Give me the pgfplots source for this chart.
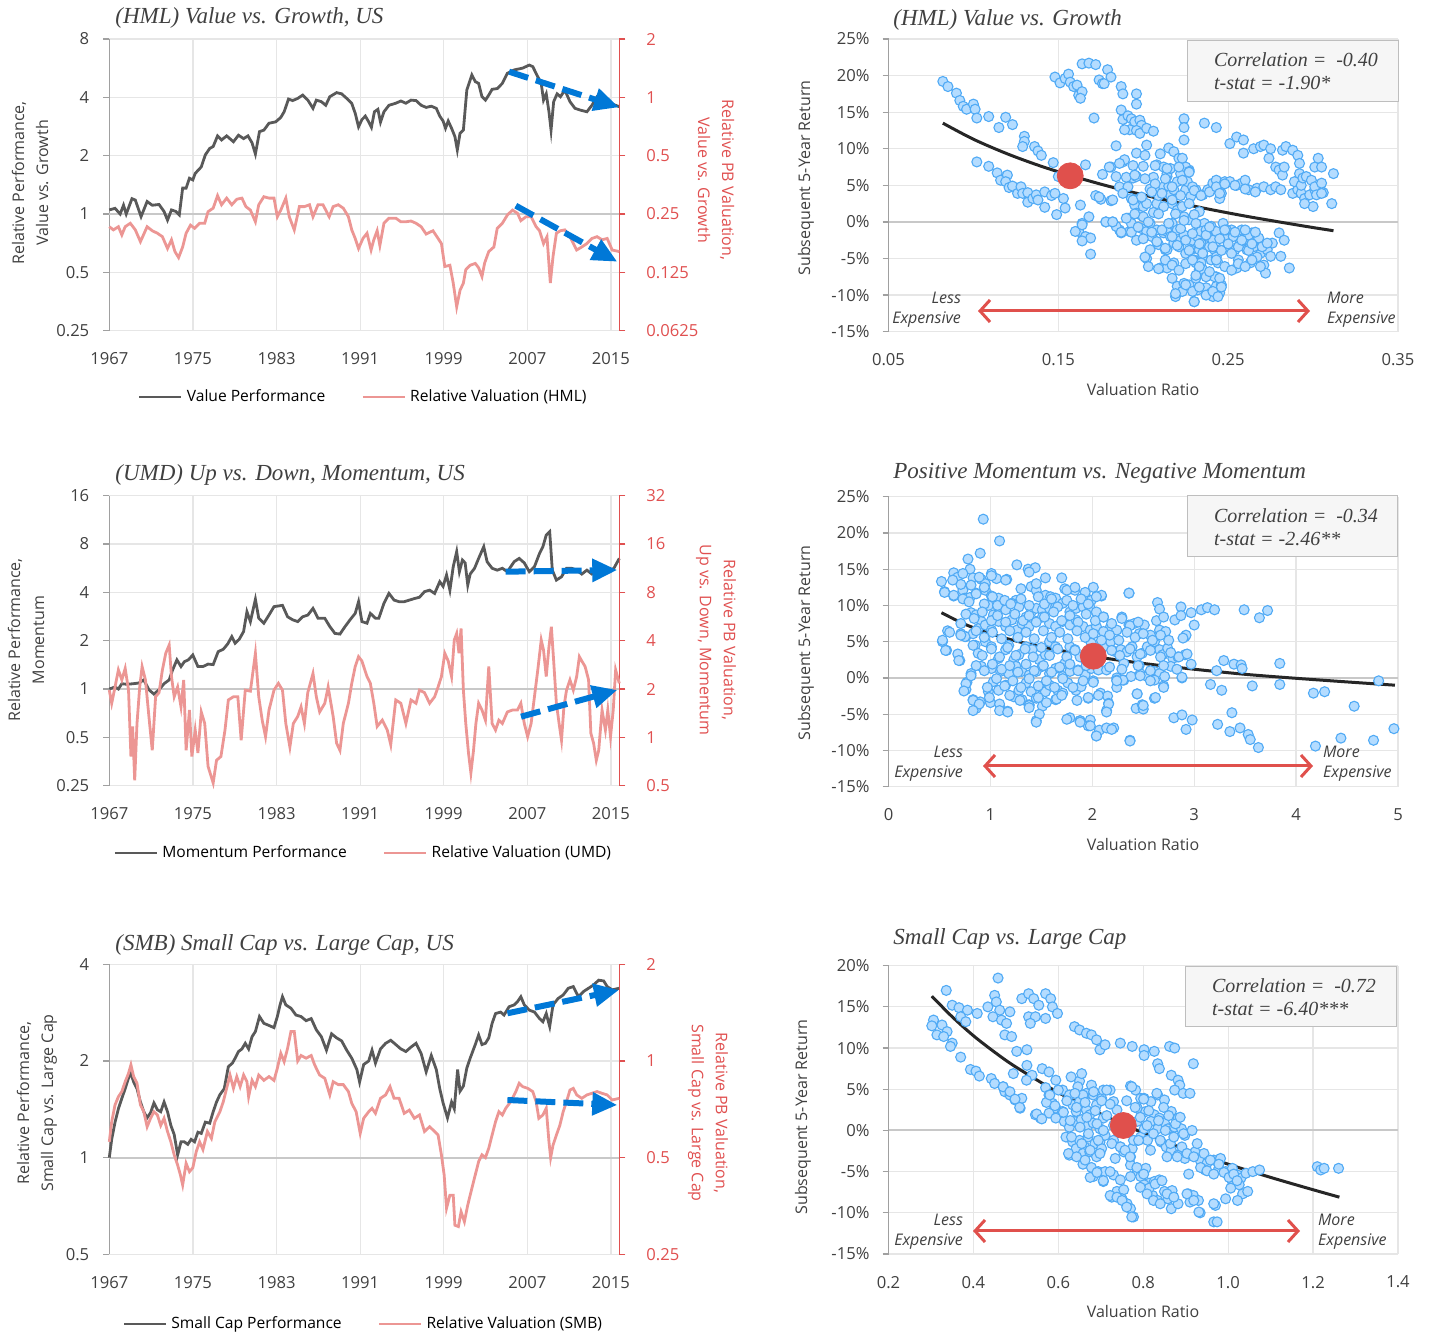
\documentclass[border=0pt]{standalone}
\usepackage{fontspec}
\setmainfont{Open Sans}
\newfontfamily\serifit{Liberation Serif}
\usepackage{pgfplots}
\pgfplotsset{compat=1.18}
\usetikzlibrary{arrows.meta}
\definecolor{darkline}{RGB}{89,89,89}
\definecolor{pinkline}{RGB}{236,150,148}
\definecolor{redaxis}{RGB}{224,80,80}
\definecolor{gridc}{RGB}{230,230,230}
\definecolor{zeroc}{RGB}{200,200,200}
\definecolor{axisgrey}{RGB}{160,160,160}
\definecolor{labc}{RGB}{64,64,64}
\definecolor{blueA}{RGB}{0,120,215}
\definecolor{scatfill}{RGB}{180,220,255}
\definecolor{scatdraw}{RGB}{80,170,245}
\definecolor{dotred}{RGB}{224,80,76}
\definecolor{boxfill}{RGB}{246,246,246}
\definecolor{boxdraw}{RGB}{190,190,190}
\newcommand\tfont{\fontsize{8.3}{10}\selectfont}
\newcommand\lfont{\fontsize{8}{12}\selectfont}
\newcommand\legfont{\fontsize{7.8}{9}\selectfont}
\newcommand\titfont{\serifit\itshape\fontsize{11.5}{13}\selectfont}
\newcommand\boxfont{\serifit\itshape\fontsize{10}{11.5}\selectfont}
\newcommand\lmfont{\fontsize{8}{10}\selectfont\itshape}
\tikzset{
  dk/.style={darkline, line width=1.4pt},
  pk/.style={pinkline, line width=1.4pt},
  pts/.style={only marks, mark=*, mark size=2.5pt, mark options={fill=scatfill, draw=scatdraw, line width=0.55pt}},
  fitline/.style={black!85, line width=1.5pt, smooth},
  rdot/.style={only marks, mark=*, mark size=6.5pt, color=dotred},
  barrow/.style={blueA, line width=3pt, dash pattern=on 10pt off 4pt, -{Triangle[length=12.5pt,width=11pt]}},
  rarrow/.style={dotred, line width=1.5pt, {Straight Barb[length=5pt,width=11pt]}-{Straight Barb[length=5pt,width=11pt]}},
}
\pgfplotsset{
  mybase/.style={scale only axis, anchor=north west, tick align=outside, major tick length=3pt,
    tick label style={font=\tfont, text=labc}, clip=false},
  myleftA/.style={mybase, width=255pt, xmin=1967, xmax=2015.8,
    axis y line*=left, axis x line*=bottom,
    x axis line style={draw=gridc, line width=0.6pt},
    y axis line style={draw=axisgrey, line width=0.6pt},
    ytick style={draw=axisgrey, line width=0.6pt}, xtick style={draw=none},
    xtick={1967,1975,1983,1991,1999,2007,2015},
    xticklabels={1967,1975,1983,1991,1999,2007,2015},
    xticklabel style={yshift=-4.5pt}, yticklabel style={xshift=-3.5pt},
    grid=major, grid style={draw=gridc, line width=0.6pt},
    legend style={draw=none, fill=none, font=\legfont, legend columns=2, anchor=center,
      /tikz/every even column/.append style={column sep=16pt}}},
  myleftB/.style={mybase, width=255pt, xmin=1967, xmax=2015.8,
    axis y line*=right, axis x line=none,
    y axis line style={draw=redaxis, line width=0.6pt},
    ytick style={draw=redaxis, line width=0.6pt},
    yticklabel style={text=redaxis, xshift=7pt}},
  myscat/.style={mybase, axis y line*=left, axis x line*=bottom, width=254.75pt,
    x axis line style={draw=gridc, line width=0.6pt},
    y axis line style={draw=axisgrey, line width=0.6pt},
    ytick style={draw=axisgrey, line width=0.6pt}, xtick style={draw=none},
    xticklabel style={yshift=-4.5pt}, yticklabel style={xshift=-3pt},
    grid=major, grid style={draw=gridc, line width=0.6pt}},
}
\begin{document}
\begin{tikzpicture}
\path[use as bounding box] (0,0) rectangle (716pt,-668pt);
% ===== Row 1 left =====
\begin{axis}[myleftA, ymode=log, log basis y=2, at={(54.65pt,-19.5pt)}, height=145.85pt, ymin=0.25, ymax=8,
  ytick={0.25,0.5,1,2,4,8}, yticklabels={0.25,0.5,1,2,4,8},
  legend image code/.code={\draw[#1] (0pt,0pt) -- (21pt,0pt);},
  legend style={at={(0.50,-0.227)}}]
\addplot[zeroc, line width=1pt, forget plot] coordinates {(1967,1) (2015.8,1)};
\addplot[dk] coordinates {(1967.00,1.05)(1967.55,1.07)(1968.04,1.00)(1968.36,1.11)(1968.62,1.00)(1969.17,1.20)(1969.49,1.18)(1970.04,0.97)(1970.62,1.16)(1971.11,1.11)(1971.76,1.12)(1972.24,1.03)(1972.57,0.93)(1972.95,1.05)(1973.38,1.03)(1973.70,0.99)(1974.02,1.36)(1974.35,1.36)(1974.67,1.53)(1974.99,1.50)(1975.22,1.62)(1975.80,1.75)(1976.19,2.02)(1976.61,2.18)(1976.94,2.23)(1977.36,2.53)(1977.74,2.41)(1978.23,2.53)(1978.88,2.36)(1979.36,2.55)(1979.85,2.45)(1980.27,2.53)(1980.66,2.33)(1980.98,2.04)(1981.37,2.66)(1981.79,2.71)(1982.28,2.94)(1982.92,2.99)(1983.41,3.15)(1983.73,3.37)(1984.15,3.92)(1984.54,3.85)(1985.03,3.95)(1985.51,4.11)(1986.00,3.87)(1986.49,3.51)(1986.81,3.87)(1987.29,3.80)(1987.71,3.64)(1988.10,4.03)(1988.75,4.23)(1989.23,4.17)(1989.72,3.95)(1990.20,3.72)(1990.53,3.31)(1990.85,2.82)(1991.17,3.07)(1991.50,3.20)(1991.82,2.99)(1992.08,2.80)(1992.37,3.37)(1992.70,3.47)(1992.95,2.98)(1993.28,3.37)(1993.76,3.64)(1994.41,3.73)(1994.90,3.83)(1995.38,3.73)(1995.87,3.87)(1996.35,3.85)(1996.84,3.64)(1997.32,3.55)(1997.81,3.60)(1998.29,3.51)(1998.62,3.20)(1998.94,3.02)(1999.17,2.77)(1999.43,3.02)(1999.75,2.77)(2000.07,2.51)(2000.30,2.14)(2000.56,2.61)(2000.88,2.71)(2001.21,4.36)(2001.69,5.22)(2002.02,4.82)(2002.34,4.72)(2002.66,4.03)(2002.99,3.87)(2003.31,4.11)(2003.63,4.40)(2004.12,4.44)(2004.61,4.72)(2005.09,5.32)(2005.74,5.54)(2006.55,5.66)(2007.19,5.87)(2007.52,5.76)(2008.00,5.11)(2008.33,4.72)(2008.55,3.87)(2008.81,4.17)(2009.07,3.37)(2009.27,2.71)(2009.52,3.80)(2009.85,4.17)(2010.17,4.03)(2010.59,4.36)(2011.08,3.80)(2011.56,3.51)(2012.05,3.44)(2012.70,3.37)(2013.18,3.64)(2013.67,4.03)(2014.31,3.95)(2014.96,3.72)(2015.80,3.58)};
\addlegendentry{Value Performance}
\addlegendimage{pk}
\addlegendentry{Relative Valuation (HML)}
\end{axis}
\begin{axis}[myleftB, ymode=log, log basis y=2, at={(54.65pt,-19.5pt)}, height=145.85pt, ymin=0.0625, ymax=2,
  ytick={0.0625,0.125,0.25,0.5,1,2}, yticklabels={0.0625,0.125,0.25,0.5,1,2}]
\addplot[pk] coordinates {(1967.00,0.215)(1967.39,0.207)(1967.87,0.215)(1968.20,0.195)(1968.52,0.215)(1969.01,0.224)(1969.49,0.207)(1969.98,0.180)(1970.62,0.215)(1971.11,0.205)(1971.60,0.199)(1972.08,0.191)(1972.57,0.166)(1972.95,0.184)(1973.28,0.160)(1973.63,0.149)(1974.02,0.169)(1974.35,0.199)(1974.77,0.219)(1975.16,0.211)(1975.64,0.224)(1976.13,0.224)(1976.45,0.257)(1976.94,0.268)(1977.36,0.311)(1977.74,0.279)(1978.23,0.302)(1978.72,0.279)(1979.20,0.298)(1979.69,0.302)(1980.07,0.273)(1980.50,0.262)(1980.98,0.228)(1981.30,0.279)(1981.79,0.307)(1982.28,0.302)(1982.76,0.302)(1983.08,0.242)(1983.41,0.262)(1983.89,0.302)(1984.22,0.242)(1984.70,0.207)(1985.19,0.273)(1985.67,0.273)(1986.16,0.279)(1986.49,0.242)(1986.97,0.279)(1987.45,0.279)(1988.04,0.242)(1988.42,0.273)(1988.91,0.279)(1989.39,0.268)(1989.88,0.242)(1990.20,0.207)(1990.53,0.187)(1990.85,0.166)(1991.27,0.187)(1991.66,0.199)(1992.05,0.163)(1992.31,0.184)(1992.63,0.205)(1992.89,0.172)(1993.28,0.224)(1993.76,0.238)(1994.41,0.238)(1994.90,0.228)(1995.38,0.228)(1995.87,0.230)(1996.35,0.224)(1996.84,0.215)(1997.32,0.197)(1997.97,0.205)(1998.46,0.187)(1998.78,0.176)(1999.10,0.134)(1999.59,0.136)(1999.91,0.110)(2000.24,0.083)(2000.56,0.101)(2000.88,0.110)(2001.11,0.129)(2001.53,0.136)(2002.02,0.139)(2002.34,0.132)(2002.66,0.119)(2002.92,0.140)(2003.31,0.160)(2003.80,0.169)(2004.12,0.211)(2004.61,0.224)(2005.09,0.247)(2005.58,0.262)(2006.06,0.252)(2006.38,0.231)(2006.87,0.242)(2007.36,0.242)(2007.84,0.215)(2008.17,0.205)(2008.55,0.176)(2008.88,0.191)(2009.20,0.110)(2009.46,0.151)(2009.78,0.199)(2010.17,0.205)(2010.59,0.207)(2011.08,0.191)(2011.72,0.163)(2012.21,0.169)(2012.70,0.176)(2013.18,0.187)(2013.67,0.191)(2014.15,0.184)(2014.64,0.187)(2015.12,0.163)(2015.80,0.160)};
\end{axis}
% ===== Row 2 left =====
\begin{axis}[myleftA, ymode=log, log basis y=2, at={(54.65pt,-247.85pt)}, height=145pt, ymin=0.25, ymax=16,
  ytick={0.25,0.5,1,2,4,8,16}, yticklabels={0.25,0.5,1,2,4,8,16},
  legend image code/.code={\draw[#1] (0pt,0pt) -- (21pt,0pt);},
  legend style={at={(0.50,-0.232)}}]
\addplot[zeroc, line width=1pt, forget plot] coordinates {(1967,1) (2015.8,1)};
\addplot[dk] coordinates {(1967.00,1.00)(1967.55,1.03)(1967.87,1.00)(1968.20,1.08)(1968.68,1.07)(1969.33,1.08)(1969.82,1.09)(1970.30,1.14)(1970.79,0.99)(1971.27,0.93)(1971.76,0.99)(1972.24,1.08)(1972.73,1.14)(1973.05,1.31)(1973.47,1.52)(1973.86,1.38)(1974.18,1.48)(1974.57,1.52)(1974.99,1.63)(1975.48,1.38)(1975.96,1.38)(1976.45,1.43)(1976.94,1.42)(1977.42,1.71)(1977.91,1.77)(1978.33,1.91)(1978.72,2.12)(1979.04,1.93)(1979.43,2.04)(1979.85,2.28)(1980.17,3.03)(1980.50,2.63)(1980.98,3.62)(1981.30,2.76)(1981.79,2.57)(1982.28,2.89)(1982.76,3.26)(1983.57,3.32)(1984.06,2.82)(1984.54,2.70)(1985.03,2.63)(1985.51,2.82)(1986.00,2.89)(1986.49,3.18)(1986.97,2.76)(1987.62,2.76)(1988.10,2.45)(1988.59,2.22)(1989.07,2.20)(1989.56,2.45)(1990.04,2.70)(1990.53,2.96)(1990.85,3.50)(1991.17,2.63)(1991.66,2.57)(1991.98,2.96)(1992.47,2.76)(1992.79,2.76)(1993.28,3.42)(1993.76,3.94)(1994.25,3.58)(1994.73,3.50)(1995.22,3.50)(1995.71,3.58)(1996.19,3.66)(1996.68,3.73)(1997.16,4.04)(1997.65,4.13)(1998.13,3.94)(1998.62,4.66)(1998.94,4.36)(1999.27,5.13)(1999.59,4.13)(1999.91,5.78)(2000.24,7.17)(2000.50,5.38)(2000.79,6.36)(2001.05,6.10)(2001.30,4.44)(2001.53,5.20)(2001.95,5.65)(2002.34,6.51)(2002.83,7.70)(2003.15,6.21)(2003.63,5.65)(2004.12,5.50)(2004.61,5.65)(2005.09,5.38)(2005.74,6.21)(2006.22,6.51)(2006.71,6.10)(2007.19,5.38)(2007.68,5.78)(2008.17,7.00)(2008.49,7.70)(2008.81,9.10)(2009.14,9.55)(2009.39,5.50)(2009.78,4.77)(2010.27,5.00)(2010.75,5.65)(2011.24,5.65)(2011.72,5.50)(2012.21,5.20)(2012.70,5.50)(2013.18,5.20)(2013.67,5.38)(2014.31,5.38)(2014.96,5.50)(2015.28,5.65)(2015.80,6.51)};
\addlegendentry{Momentum Performance}
\addlegendimage{pk}
\addlegendentry{Relative Valuation (UMD)}
\end{axis}
\begin{axis}[myleftB, ymode=log, log basis y=2, at={(54.65pt,-247.85pt)}, height=145pt, ymin=0.5, ymax=32,
  ytick={0.5,1,2,4,8,16,32}, yticklabels={0.5,1,2,4,8,16,32}]
\addplot[pk] coordinates {(1967.00,1.97)(1967.23,1.63)(1967.55,2.06)(1967.87,2.63)(1968.20,2.28)(1968.52,2.69)(1968.84,1.97)(1969.07,0.76)(1969.23,1.17)(1969.43,0.54)(1969.65,1.22)(1969.91,2.06)(1970.14,2.76)(1970.46,2.28)(1970.79,1.35)(1971.11,0.83)(1971.43,1.79)(1971.76,1.90)(1972.08,2.63)(1972.40,3.34)(1972.73,3.76)(1972.95,2.39)(1973.21,1.79)(1973.54,2.06)(1973.86,1.55)(1974.12,2.28)(1974.35,0.83)(1974.67,1.48)(1974.90,0.76)(1975.22,1.11)(1975.48,0.80)(1975.80,1.44)(1976.13,1.22)(1976.45,0.66)(1976.94,0.52)(1977.26,0.72)(1977.68,0.76)(1978.07,1.11)(1978.39,1.71)(1978.88,1.79)(1979.30,1.79)(1979.62,0.96)(1980.01,1.97)(1980.50,1.94)(1980.98,3.34)(1981.30,1.79)(1981.63,1.28)(1981.95,1.01)(1982.28,1.48)(1982.76,1.97)(1983.18,2.17)(1983.57,1.97)(1983.89,1.22)(1984.28,0.87)(1984.61,1.22)(1985.03,1.35)(1985.35,1.55)(1985.67,1.22)(1985.99,1.90)(1986.49,2.50)(1986.81,1.79)(1987.13,1.44)(1987.62,1.63)(1987.94,2.06)(1988.42,1.35)(1988.75,0.92)(1989.07,0.83)(1989.39,1.22)(1989.88,1.63)(1990.20,2.17)(1990.53,2.76)(1990.85,3.18)(1991.17,2.99)(1991.66,2.39)(1991.98,2.17)(1992.31,1.63)(1992.63,1.17)(1993.12,1.28)(1993.60,1.11)(1993.93,0.90)(1994.41,1.71)(1994.90,1.63)(1995.38,1.22)(1995.87,1.71)(1996.35,1.63)(1996.68,1.97)(1997.16,1.90)(1997.65,1.63)(1998.13,1.79)(1998.46,2.06)(1998.78,2.39)(1999.10,3.34)(1999.43,2.99)(1999.75,2.39)(2000.01,4.04)(2000.24,4.44)(2000.46,3.34)(2000.66,4.77)(2000.88,1.97)(2001.11,1.22)(2001.37,0.80)(2001.60,0.60)(2001.85,0.83)(2002.08,1.22)(2002.34,1.63)(2002.66,1.48)(2002.99,1.28)(2003.31,2.76)(2003.63,1.22)(2003.96,1.11)(2004.28,1.28)(2004.61,1.22)(2005.09,1.44)(2005.58,1.48)(2006.06,1.48)(2006.38,1.63)(2006.71,1.22)(2007.03,1.01)(2007.36,1.22)(2007.68,1.79)(2008.00,2.63)(2008.33,4.04)(2008.55,3.50)(2008.81,2.39)(2009.07,3.67)(2009.30,4.89)(2009.52,2.99)(2009.78,1.63)(2010.04,1.22)(2010.27,0.96)(2010.50,1.55)(2010.75,1.97)(2011.08,2.28)(2011.40,1.97)(2011.72,2.39)(2011.98,3.18)(2012.21,2.99)(2012.53,2.76)(2012.86,2.28)(2013.08,1.06)(2013.34,0.92)(2013.60,0.72)(2013.83,0.83)(2014.15,1.48)(2014.47,1.11)(2014.70,1.48)(2014.96,1.01)(2015.22,1.48)(2015.45,2.63)(2015.80,2.17)};
\end{axis}
% ===== Row 3 left =====
\begin{axis}[myleftA, ymode=log, log basis y=2, at={(54.65pt,-482.15pt)}, height=145pt, ymin=0.5, ymax=4,
  ytick={0.5,1,2,4}, yticklabels={0.5,1,2,4},
  legend image code/.code={\draw[#1] (0pt,0pt) -- (21pt,0pt);},
  legend style={at={(0.50,-0.240)}}]
\addplot[zeroc, line width=1pt, forget plot] coordinates {(1967,1) (2015.8,1)};
\addplot[dk] coordinates {(1967.00,1.00)(1967.23,1.14)(1967.55,1.29)(1967.87,1.42)(1968.20,1.53)(1968.52,1.64)(1968.84,1.77)(1969.07,1.83)(1969.33,1.72)(1969.65,1.64)(1969.98,1.49)(1970.30,1.39)(1970.62,1.33)(1970.95,1.38)(1971.27,1.48)(1971.60,1.41)(1971.92,1.39)(1972.24,1.49)(1972.57,1.39)(1972.89,1.26)(1973.21,1.18)(1973.54,1.02)(1973.86,1.12)(1974.18,1.12)(1974.51,1.10)(1974.83,1.14)(1975.16,1.12)(1975.48,1.20)(1975.80,1.19)(1976.19,1.29)(1976.61,1.28)(1976.94,1.39)(1977.26,1.49)(1977.58,1.57)(1978.00,1.64)(1978.39,1.92)(1978.78,1.97)(1979.04,2.04)(1979.36,2.14)(1979.69,2.18)(1980.01,2.27)(1980.33,2.18)(1980.66,2.38)(1980.98,2.47)(1981.37,2.75)(1981.79,2.62)(1982.28,2.58)(1982.76,2.54)(1983.08,2.75)(1983.34,2.99)(1983.57,3.17)(1983.89,2.99)(1984.38,2.92)(1984.86,2.78)(1985.35,2.75)(1985.83,2.67)(1986.32,2.71)(1986.81,2.50)(1987.29,2.38)(1987.78,2.16)(1988.27,2.43)(1988.75,2.36)(1989.23,2.31)(1989.72,2.16)(1990.20,2.04)(1990.69,1.88)(1990.95,1.72)(1991.34,1.95)(1991.82,2.00)(1992.14,2.16)(1992.47,1.97)(1992.95,2.18)(1993.44,2.27)(1993.93,2.32)(1994.41,2.25)(1994.90,2.18)(1995.38,2.14)(1995.87,2.21)(1996.35,2.27)(1996.84,2.11)(1997.32,1.85)(1997.81,2.08)(1998.29,1.88)(1998.62,1.64)(1998.94,1.48)(1999.36,1.33)(1999.75,1.49)(2000.01,1.42)(2000.33,1.88)(2000.56,1.61)(2000.88,1.67)(2001.21,1.90)(2001.53,2.04)(2002.02,2.25)(2002.34,2.41)(2002.66,2.25)(2002.99,2.27)(2003.31,2.36)(2003.63,2.62)(2003.96,2.81)(2004.44,2.84)(2004.77,2.78)(2005.25,2.95)(2005.74,2.99)(2006.06,3.06)(2006.38,3.17)(2006.71,2.99)(2007.19,2.88)(2007.68,2.84)(2008.17,2.71)(2008.49,2.65)(2008.81,2.81)(2009.14,2.56)(2009.46,2.99)(2009.94,3.13)(2010.43,3.21)(2010.92,3.37)(2011.40,3.41)(2011.89,3.17)(2012.37,3.29)(2012.86,3.37)(2013.34,3.45)(2013.83,3.57)(2014.31,3.55)(2014.64,3.41)(2015.12,3.33)(2015.80,3.37)};
\addlegendentry{Small Cap Performance}
\addlegendimage{pk}
\addlegendentry{Relative Valuation (SMB)}
\end{axis}
\begin{axis}[myleftB, ymode=log, log basis y=2, at={(54.65pt,-482.15pt)}, height=145pt, ymin=0.25, ymax=2,
  ytick={0.25,0.5,1,2}, yticklabels={0.25,0.5,1,2}]
\addplot[pk] coordinates {(1967.00,0.560)(1967.23,0.647)(1967.55,0.730)(1967.87,0.774)(1968.20,0.803)(1968.52,0.862)(1968.84,0.915)(1969.07,0.972)(1969.33,0.894)(1969.65,0.852)(1969.98,0.730)(1970.30,0.695)(1970.62,0.624)(1970.95,0.663)(1971.27,0.695)(1971.60,0.679)(1971.92,0.630)(1972.24,0.663)(1972.57,0.603)(1972.89,0.560)(1973.21,0.510)(1973.54,0.474)(1973.80,0.442)(1974.02,0.411)(1974.35,0.480)(1974.67,0.452)(1974.99,0.465)(1975.32,0.522)(1975.64,0.560)(1975.96,0.530)(1976.39,0.603)(1976.77,0.574)(1977.10,0.647)(1977.58,0.695)(1977.91,0.747)(1978.23,0.822)(1978.55,0.904)(1978.88,0.822)(1979.20,0.894)(1979.52,0.832)(1979.85,0.904)(1980.17,0.862)(1980.33,0.774)(1980.66,0.870)(1980.98,0.832)(1981.30,0.904)(1981.79,0.870)(1982.28,0.894)(1982.76,0.870)(1983.08,0.949)(1983.41,1.056)(1983.73,0.995)(1984.06,1.095)(1984.38,1.234)(1984.70,1.234)(1985.03,1.000)(1985.35,1.040)(1985.83,1.020)(1986.32,1.040)(1986.65,0.972)(1987.13,0.904)(1987.62,0.883)(1988.10,0.784)(1988.42,0.862)(1988.91,0.844)(1989.39,0.844)(1989.88,0.803)(1990.20,0.738)(1990.62,0.695)(1991.01,0.595)(1991.34,0.663)(1991.82,0.695)(1992.14,0.712)(1992.47,0.687)(1992.95,0.765)(1993.44,0.784)(1993.86,0.832)(1994.25,0.765)(1994.73,0.765)(1995.22,0.687)(1995.71,0.703)(1996.19,0.663)(1996.68,0.679)(1997.16,0.603)(1997.65,0.624)(1998.13,0.603)(1998.46,0.588)(1998.78,0.510)(1999.04,0.442)(1999.27,0.348)(1999.59,0.382)(1999.91,0.382)(2000.07,0.308)(2000.40,0.305)(2000.66,0.339)(2000.98,0.316)(2001.30,0.356)(2001.69,0.401)(2002.02,0.442)(2002.34,0.486)(2002.66,0.510)(2002.99,0.500)(2003.31,0.535)(2003.63,0.588)(2003.96,0.647)(2004.28,0.695)(2004.61,0.679)(2004.93,0.712)(2005.41,0.747)(2005.90,0.803)(2006.22,0.852)(2006.55,0.832)(2007.03,0.822)(2007.52,0.803)(2007.84,0.747)(2008.10,0.663)(2008.49,0.679)(2008.81,0.712)(2009.07,0.560)(2009.23,0.500)(2009.46,0.547)(2009.78,0.588)(2010.11,0.630)(2010.43,0.695)(2010.75,0.747)(2011.08,0.812)(2011.40,0.822)(2011.72,0.784)(2012.21,0.765)(2012.70,0.784)(2013.18,0.793)(2013.67,0.803)(2014.15,0.793)(2014.64,0.784)(2015.12,0.756)(2015.80,0.765)};
\end{axis}
% ===== Row 1 right =====
\begin{axis}[myscat, at={(444.25pt,-19.5pt)}, height=146.35pt,
  xmin=0.05, xmax=0.35, ymin=-15, ymax=25,
  xtick={0.05,0.15,0.25,0.35}, xticklabels={0.05,0.15,0.25,0.35},
  ytick={-15,-10,-5,0,5,10,15,20,25}, yticklabels={-15\%,-10\%,-5\%,0\%,5\%,10\%,15\%,20\%,25\%}]
\addplot[zeroc, line width=1pt, forget plot] coordinates {(0.05,0) (0.35,0)};
\addplot[pts] coordinates {(0.082,19.2)(0.085,18.5)(0.090,17.6)(0.092,16.6)(0.094,15.8)(0.096,15.4)(0.100,16.1)(0.101,15.4)(0.102,14.2)(0.109,14.4)(0.115,12.9)(0.119,14.3)(0.123,13.3)
(0.102,8.2)(0.109,7.6)(0.114,6.7)(0.116,5.7)(0.120,6.4)(0.119,5.5)(0.121,4.7)(0.123,4.9)(0.126,3.9)(0.128,4.8)(0.129,3.9)(0.132,4.0)(0.132,2.7)(0.135,3.2)(0.137,3.7)(0.138,3.0)(0.142,4.1)(0.142,2.0)(0.146,3.6)(0.148,3.9)(0.149,1.0)(0.153,3.2)(0.154,1.9)(0.147,8.1)(0.130,11.7)(0.130,11.0)(0.129,10.3)(0.136,10.3)(0.138,9.7)(0.140,9.1)
(0.150,6.2)(0.156,6.2)(0.163,2.3)(0.166,7.8)(0.168,0.7)(0.164,-0.2)(0.162,-1.3)(0.166,-2.0)(0.169,-2.2)(0.164,-2.6)(0.169,-4.4)(0.172,3.6)(0.175,3.1)(0.176,6.5)(0.178,0.0)(0.182,0.0)(0.181,7.5)(0.181,2.9)(0.184,6.2)(0.186,4.8)(0.188,8.2)(0.189,8.5)(0.191,4.8)(0.193,3.2)(0.194,6.0)(0.196,6.2)(0.197,3.1)(0.195,2.3)(0.196,1.2)(0.198,1.0)(0.200,2.1)(0.202,2.5)(0.204,4.5)(0.206,6.1)(0.208,2.5)(0.209,3.6)(0.210,4.4)(0.212,4.8)(0.214,6.2)(0.215,4.9)(0.216,3.7)(0.217,2.5)(0.218,4.4)(0.220,5.5)(0.222,6.6)(0.225,4.4)(0.227,7.1)(0.228,3.5)(0.231,4.4)(0.233,1.4)(0.235,3.7)(0.238,4.4)(0.241,5.3)(0.243,5.7)(0.246,3.9)(0.245,3.2)(0.248,5.5)(0.251,5.5)(0.255,5.0)(0.258,5.3)(0.260,5.7)(0.262,4.4)(0.267,4.6)(0.271,4.8)(0.275,4.4)(0.278,4.8)(0.281,4.4)(0.288,3.9)(0.291,4.4)(0.293,3.9)(0.295,3.2)(0.298,3.7)(0.301,4.4)(0.304,4.8)(0.306,4.0)(0.311,2.5)(0.300,2.1)(0.295,2.5)
(0.251,10.7)(0.255,11.6)(0.259,11.2)(0.265,10.0)(0.269,10.3)(0.271,10.5)(0.275,10.0)(0.274,8.7)(0.278,7.5)(0.280,7.1)(0.282,6.4)(0.283,7.5)(0.282,9.8)(0.284,10.3)(0.288,9.8)(0.291,9.1)(0.292,8.0)(0.292,6.6)(0.289,5.5)(0.293,5.0)(0.294,6.0)(0.296,6.2)(0.299,5.7)(0.301,7.5)(0.303,8.7)(0.305,7.5)(0.312,6.6)(0.301,4.8)(0.302,3.7)(0.305,3.9)(0.305,5.3)(0.259,9.4)
(0.148,19.8)(0.151,19.0)(0.154,19.6)(0.156,20.2)(0.157,19.1)(0.159,18.5)(0.161,18.7)(0.162,17.3)(0.164,17.8)(0.163,16.9)(0.164,21.6)(0.168,21.7)(0.172,21.5)(0.174,19.4)(0.176,18.9)(0.177,18.9)(0.179,20.8)(0.181,19.8)(0.187,18.5)(0.188,17.5)(0.196,17.5)(0.196,16.1)(0.171,14.2)(0.187,15.3)(0.188,14.0)(0.191,14.5)(0.193,14.1)(0.195,13.7)(0.198,13.9)(0.199,13.2)(0.192,12.6)(0.196,12.5)(0.198,12.1)(0.202,12.8)(0.206,12.4)(0.189,12.6)(0.202,10.5)(0.184,10.4)(0.196,9.4)(0.201,9.1)(0.224,14.1)(0.224,12.9)(0.224,11.2)(0.236,13.5)(0.243,12.9)(0.215,10.1)(0.218,9.6)(0.221,8.7)(0.223,8.7)(0.225,7.5)(0.210,9.3)(0.208,7.8)(0.212,7.5)(0.214,6.6)(0.216,7.3)(0.227,6.9)(0.226,5.5)(0.229,4.8)
(0.160,-1.3)(0.164,-0.4)(0.186,-1.1)(0.187,-1.5)(0.192,-1.3)(0.196,-2.5)(0.199,-0.9)(0.202,-1.3)(0.204,-0.2)(0.205,-2.0)(0.208,-1.1)(0.209,-3.1)(0.212,-1.5)(0.213,-3.8)(0.214,-1.3)(0.216,-2.0)(0.217,-0.2)(0.218,-2.9)(0.220,-1.1)(0.221,-3.4)(0.222,-2.5)(0.224,-1.8)(0.225,-4.3)(0.227,0.3)(0.228,-3.8)(0.229,-2.5)(0.230,-5.2)(0.231,-5.6)(0.232,-2.0)(0.233,-3.8)(0.233,-1.1)(0.234,-2.9)(0.235,-4.7)(0.236,-0.2)(0.238,-2.0)(0.239,-3.4)(0.240,-5.2)(0.241,-2.5)(0.242,-3.8)(0.243,-7.5)(0.244,-5.6)(0.245,-3.8)(0.247,-0.2)(0.248,-2.0)(0.250,-3.4)(0.252,-1.1)(0.254,-3.8)(0.255,-6.3)(0.256,-5.2)(0.258,-1.1)(0.259,-2.5)(0.261,-3.8)(0.263,-5.6)(0.264,-1.5)(0.266,-2.9)(0.268,-2.2)(0.269,-4.3)(0.271,-5.9)(0.272,-7.0)(0.273,-3.8)(0.275,-4.7)(0.276,-2.9)(0.280,-1.5)(0.281,-4.7)(0.283,-2.5)(0.286,-6.3)
(0.204,-3.8)(0.202,-5.0)(0.210,-6.3)(0.214,-6.3)(0.218,-5.6)(0.217,-7.7)(0.220,-8.8)(0.219,-10.2)(0.223,-9.5)(0.224,-8.4)(0.227,-8.6)(0.230,-10.9)(0.231,-7.7)(0.233,-6.5)(0.234,-5.6)(0.237,-9.0)(0.240,-9.7)(0.241,-10.2)(0.243,-8.8)(0.245,-9.7)(0.246,-8.6)(0.242,-7.5)(0.235,-6.5)(0.232,-9.3)(0.269,-6.1)(0.214,-3.8)(0.208,-2.7)(0.184,-0.6)(0.191,0.5)(0.193,-0.2)(0.200,0.7)(0.206,1.3)(0.212,2.1)(0.220,1.6)(0.223,2.1)(0.224,0.7)(0.230,1.0)(0.234,-1.3)(0.237,-1.1)(0.240,-0.6)(0.243,-1.3)(0.249,-1.1)(0.253,-2.0)(0.257,-2.9)(0.262,-1.8)(0.265,-3.4)(0.270,-3.4)(0.273,-2.9)
(0.180,7.5)(0.186,8.0)(0.194,7.7)(0.200,7.6)(0.207,7.7)(0.214,7.3)(0.221,7.5)(0.227,6.8)(0.190,6.1)(0.195,6.4)(0.201,5.9)(0.207,5.2)(0.213,5.9)(0.217,4.8)(0.223,5.7)(0.230,4.3)(0.234,3.6)(0.174,3.4)(0.182,3.0)(0.188,3.9)(0.194,3.0)(0.199,3.4)(0.205,4.1)(0.211,3.9)(0.217,3.0)(0.222,3.6)(0.227,2.5)(0.239,4.1)(0.243,4.8)(0.248,5.2)(0.254,5.0)(0.260,4.5)(0.266,4.1)(0.245,3.9)
(0.178,0.0)(0.182,0.0)(0.187,-1.4)(0.190,0.5)(0.193,-1.4)(0.195,1.1)(0.197,-0.7)(0.200,-2.3)(0.203,0.0)(0.205,-1.4)(0.208,-2.7)(0.209,1.1)(0.211,-1.1)(0.213,-3.6)(0.215,-0.2)(0.217,-2.0)(0.219,1.1)(0.220,-3.2)(0.222,-0.9)(0.224,0.2)(0.225,-2.5)(0.227,-3.9)(0.229,-1.6)(0.231,-0.2)(0.233,-3.0)(0.235,-4.3)(0.237,-1.8)(0.239,-0.7)(0.241,-3.4)(0.243,-4.8)(0.245,-2.3)(0.246,-3.9)(0.248,-1.1)(0.250,-3.0)(0.252,-4.3)(0.254,-1.4)(0.256,-3.4)(0.258,-2.5)(0.260,-1.1)(0.262,-3.9)(0.264,-3.0)(0.266,-1.4)(0.267,-4.8)
(0.201,-4.8)(0.203,-6.1)(0.209,-6.4)(0.213,-5.2)(0.217,-5.9)(0.221,-6.6)(0.225,-5.7)(0.229,-5.2)(0.231,-7.3)(0.233,-6.1)(0.237,-7.5)(0.239,-6.8)(0.243,-5.2)(0.245,-7.7)(0.246,-8.9)(0.248,-6.1)(0.252,-6.6)(0.256,-5.7)(0.260,-6.1)(0.264,-5.2)(0.225,-8.6)(0.229,-9.5)(0.233,-8.9)(0.237,-10.0)(0.241,-9.5)(0.244,-10.2)(0.219,-9.8)(0.230,-10.9)};
\addplot[fitline] coordinates {(0.082,13.5)(0.10,11.3)(0.12,9.3)(0.14,7.6)(0.16,6.15)(0.18,4.85)(0.20,3.7)(0.22,2.64)(0.24,1.68)(0.26,0.8)(0.28,0.0)(0.30,-0.77)(0.312,-1.2)};
\addplot[rdot] coordinates {(0.157,6.3)};
\end{axis}
% ===== Row 2 right =====
\begin{axis}[myscat, at={(444.25pt,-248.35pt)}, height=145pt,
  xmin=0, xmax=5, ymin=-15, ymax=25,
  xtick={0,1,2,3,4,5}, xticklabels={0,1,2,3,4,5},
  ytick={-15,-10,-5,0,5,10,15,20,25}, yticklabels={-15\%,-10\%,-5\%,0\%,5\%,10\%,15\%,20\%,25\%}]
\addplot[zeroc, line width=1pt, forget plot] coordinates {(0,0) (5,0)};
\addplot[pts] coordinates {(0.93,21.9)(1.09,18.9)(0.90,17.2)(0.78,16.4)(0.80,15.0)(1.26,15.6)(1.37,15.0)(1.44,15.2)(1.54,13.8)(0.64,14.5)(0.68,13.9)(0.52,13.3)(0.55,11.9)(0.64,11.3)(0.73,12.1)(0.71,12.9)(0.83,13.8)(0.91,13.6)(0.95,13.0)(1.01,14.4)(1.06,13.7)(1.16,13.6)(0.75,11.0)(0.80,11.1)(0.86,11.7)(0.95,12.1)(1.01,11.3)(1.08,11.0)(1.25,10.7)(1.30,12.3)(1.40,12.6)(1.45,12.1)(1.54,11.4)(1.59,11.2)(1.64,11.0)(1.73,12.3)(1.83,12.1)(1.93,11.4)(1.99,10.7)(2.09,11.3)(2.36,11.7)(2.64,10.4)(2.66,9.5)(2.87,9.8)(2.97,9.0)(3.07,9.4)(3.13,9.7)(3.20,9.4)(3.49,9.4)(3.64,8.3)(3.72,9.3)
(0.81,9.0)(0.86,8.7)(0.91,7.8)(0.98,10.0)(1.03,8.7)(1.10,10.0)(1.15,9.4)(1.21,10.3)(1.28,9.8)(1.35,8.4)(1.40,9.1)(1.45,9.6)(1.51,9.4)(1.58,9.6)(1.64,9.8)(1.71,10.3)(1.78,9.1)(1.84,9.6)(1.91,9.8)(1.98,9.6)(2.04,9.1)(2.11,8.4)(2.18,7.1)(2.24,6.6)(0.71,7.5)(0.76,5.7)(0.83,6.1)(0.88,6.8)(0.95,7.3)(1.01,6.6)(1.08,7.8)(1.15,7.1)(1.21,8.0)(1.26,6.6)(1.31,7.5)(1.38,7.1)(1.45,7.8)(1.51,8.4)(1.58,7.5)(1.64,7.1)(1.71,7.8)(1.78,7.3)(1.84,8.0)(1.91,7.1)(1.98,6.6)(2.04,7.1)(2.11,6.4)(2.29,8.4)(2.36,7.3)(2.41,7.5)(2.46,6.1)(2.51,7.3)(2.57,5.9)(2.66,6.6)(2.72,6.4)(2.81,8.0)(2.91,5.7)(2.92,5.9)(3.00,7.3)(2.89,5.5)(0.58,6.5)(0.71,6.1)(0.53,5.0)(0.75,5.7)
(0.57,3.8)(0.70,2.4)(0.85,4.5)(0.88,3.4)(0.95,5.0)(1.01,4.3)(1.08,2.7)(1.15,3.9)(1.18,4.5)(1.23,2.5)(1.28,3.2)(1.35,4.3)(1.41,3.9)(1.48,2.5)(1.54,3.2)(1.58,5.0)(1.64,4.3)(1.73,2.0)(1.78,4.3)(1.83,3.9)(1.88,2.9)(1.94,2.2)(1.99,4.8)(2.04,3.9)(2.11,4.3)(2.18,5.0)(2.23,3.6)(2.28,3.9)(2.34,3.6)(2.39,4.3)(2.44,2.9)(2.49,3.4)(2.54,4.3)(2.61,5.0)(2.66,3.9)(2.69,3.2)(2.74,4.1)(2.79,2.7)(2.84,2.9)(2.91,3.2)(2.97,1.9)(3.29,2.4)(3.39,1.9)(3.46,1.8)(3.47,1.3)(3.84,2.0)(3.22,1.0)(2.46,1.7)(2.31,2.0)
(0.81,0.6)(0.91,1.6)(1.01,1.3)(1.10,0.9)(1.18,0.6)(1.25,1.6)(1.31,0.9)(1.38,0.4)(1.45,0.9)(1.51,1.6)(1.58,0.6)(1.64,1.3)(1.71,0.2)(1.78,0.9)(1.86,1.1)(1.93,0.4)(1.99,1.3)(2.06,1.1)(2.14,1.1)(2.24,0.0)(2.31,-0.3)(2.38,0.2)(2.47,0.6)(2.54,0.2)(2.61,0.9)(2.66,0.6)(2.71,0.2)(2.88,0.0)(2.77,1.6)
(0.76,-1.6)(0.77,-0.6)(0.83,-3.0)(0.86,-4.2)(0.90,-3.3)(1.00,-3.4)(0.98,-1.9)(1.03,-0.5)(1.08,-1.7)(1.10,-4.2)(1.15,-1.0)(1.17,-4.6)(1.23,-2.6)(1.28,-1.7)(1.31,-3.0)(1.35,-0.7)(1.40,-1.9)(1.38,-3.7)(1.45,-2.8)(1.48,-1.2)(1.51,-3.9)(1.54,-1.9)(1.58,-1.0)(1.64,-3.0)(1.66,-1.7)(1.71,-2.1)(1.76,-0.7)(1.84,-1.7)(1.89,-1.2)(1.96,-2.8)(2.01,-0.4)(2.08,-2.1)(2.15,-2.5)(2.16,-3.5)(2.14,-4.5)(2.24,-1.3)(2.24,-0.3)(2.30,-0.3)(2.44,-2.2)(2.43,-4.2)(2.49,-3.7)(2.50,-4.3)(2.61,-2.8)(2.70,-1.1)(2.61,-0.3)(3.16,-0.9)(3.27,-1.7)(3.57,-1.1)(3.84,-0.9)(4.17,-2.1)(4.28,-1.9)(4.81,-0.4)(4.57,-3.9)
(1.45,-5.9)(1.78,-5.5)(1.88,-5.9)(1.98,-5.8)(1.96,-6.6)(2.04,-8.0)(2.07,-7.2)(2.14,-6.9)(2.21,-6.9)(2.37,-8.6)(2.80,-5.5)(2.88,-5.1)(2.98,-5.8)(2.92,-7.1)(3.23,-6.4)(3.35,-7.4)(3.37,-4.8)(3.45,-6.9)(3.53,-7.8)(3.55,-8.5)(3.63,-9.6)(4.19,-9.4)(4.44,-8.3)(4.76,-8.6)(4.96,-7.0)
(0.63,13.5)(0.73,14.4)(0.81,12.8)(0.89,13.9)(0.94,12.5)(1.01,14.1)(1.15,13.5)(1.38,14.6)(1.45,13.0)(1.70,13.8)(1.75,12.1)(1.83,12.5)(1.93,11.8)(2.01,12.5)(2.09,11.4)(2.36,11.7)
(0.55,11.8)(0.64,11.4)(0.73,10.9)(0.79,10.5)(0.86,11.6)(0.94,10.2)(1.02,11.2)(1.07,10.0)(1.14,10.7)(1.20,10.2)(1.30,10.9)(1.38,10.0)(1.47,11.2)(1.53,10.2)(1.60,10.9)(1.66,9.8)(1.75,10.7)(1.81,10.0)(1.89,10.9)(1.96,10.2)(2.04,11.2)
(0.76,8.8)(0.84,8.2)(0.92,9.1)(1.01,7.9)(1.07,8.6)(1.15,7.7)(1.24,8.8)(1.32,7.9)(1.38,8.6)(1.45,7.7)(1.53,8.4)(1.62,9.1)(1.70,7.9)(1.78,8.6)(1.86,7.7)(1.94,8.8)(2.03,7.9)(2.11,8.4)(2.19,7.5)(2.29,8.2)(2.37,7.2)(2.45,7.7)(2.63,7.9)(2.70,8.4)(2.87,8.6)
(0.53,5.2)(0.60,6.3)(0.71,5.9)(0.86,6.5)(0.94,5.6)(1.02,6.3)(1.11,5.4)(1.19,6.5)(1.27,5.6)(1.35,6.3)(1.43,5.4)(1.52,6.5)(1.60,5.6)(1.68,6.3)(1.76,5.4)(1.85,6.5)(1.93,5.6)(2.01,6.1)(2.09,5.2)(2.17,5.9)(2.26,5.2)(2.34,6.3)(2.42,5.6)(2.50,6.1)(2.59,5.2)(2.67,5.9)(2.75,5.2)
(0.56,3.8)(0.68,3.3)(0.83,4.5)(0.92,3.1)(1.01,4.0)(1.09,2.9)(1.17,4.2)(1.25,3.1)(1.34,4.0)(1.42,2.9)(1.50,4.2)(1.58,3.1)(1.66,4.0)(1.75,2.9)(1.83,3.8)(1.93,3.1)(2.19,3.8)(2.27,3.1)(2.37,4.0)(2.47,3.3)(2.57,3.8)(2.67,2.9)(2.77,3.5)(2.85,2.9)(2.93,3.3)
(0.69,2.4)(0.86,1.7)(0.94,1.0)(1.02,1.9)(1.11,1.2)(1.19,1.7)(1.27,0.8)(1.35,1.9)(1.43,1.0)(1.52,1.7)(1.60,0.8)(1.68,1.5)(1.78,1.9)(1.86,1.0)(1.94,1.7)(2.17,1.5)(2.29,1.2)(2.45,1.7)(2.57,1.0)(2.70,1.7)(2.83,1.2)
(0.76,-0.8)(0.81,0.3)(0.97,-1.3)(1.06,-0.1)(1.14,-1.1)(1.22,-0.4)(1.30,-1.3)(1.38,-0.1)(1.47,-1.1)(1.55,-0.4)(1.63,-1.3)(1.71,-0.1)(1.81,-1.3)(1.91,-0.4)(2.01,-0.6)(2.24,-0.4)(2.47,0.3)(2.57,-0.4)(2.70,-1.3)(2.88,0.1)
(0.74,-1.8)(0.83,-3.1)(0.89,-3.6)(0.99,-2.7)(1.09,-3.6)(1.19,-2.4)(1.29,-3.1)(1.38,-3.8)(1.47,-2.7)(1.55,-3.4)(1.65,-2.9)(1.70,-2.4)(1.85,-3.1)(1.96,-2.7)(2.06,-2.4)(2.16,-3.6)(2.44,-2.2)(2.50,-3.8)(2.62,-2.7)
(0.83,-4.5)(1.09,-4.5)(1.17,-4.7)(1.38,-4.1)(1.48,-5.0)(1.75,-5.7)(1.88,-5.9)(2.14,-4.7)(1.45,-6.1)(1.88,-6.1)(1.98,-6.6)(2.04,-8.0)(2.19,-7.1)(2.37,-8.7)};
\addplot[fitline] coordinates {(0.52,9.0)(0.75,7.4)(1.0,6.1)(1.25,5.1)(1.5,4.3)(2.0,3.0)(2.5,2.0)(3.0,1.2)(3.5,0.5)(4.0,-0.05)(4.5,-0.55)(4.97,-1.0)};
\addplot[rdot] coordinates {(2.01,3.0)};
\end{axis}
% ===== Row 3 right =====
\begin{axis}[myscat, at={(444.25pt,-482.85pt)}, height=144.15pt,
  xmin=0.2, xmax=1.4, ymin=-15, ymax=20,
  xtick={0.2,0.4,0.6,0.8,1.0,1.2,1.4}, xticklabels={0.2,0.4,0.6,0.8,1.0,1.2,1.4},
  ytick={-15,-10,-5,0,5,10,15,20}, yticklabels={-15\%,-10\%,-5\%,0\%,5\%,10\%,15\%,20\%}]
\addplot[zeroc, line width=1pt, forget plot] coordinates {(0.2,0) (1.4,0)};
\addplot[pts] coordinates {(0.336,17.0)(0.458,18.5)(0.350,15.2)(0.366,14.9)(0.386,14.6)(0.409,14.2)(0.370,13.8)(0.382,13.2)(0.306,13.4)(0.302,12.7)(0.326,12.8)(0.338,12.0)(0.314,11.6)(0.330,11.4)(0.350,10.6)(0.346,10.2)(0.370,8.9)(0.393,7.4)(0.406,7.2)(0.414,6.6)(0.442,6.3)(0.450,5.7)(0.470,5.3)(0.474,4.7)(0.486,4.3)(0.498,3.7)(0.510,2.7)(0.514,3.9)(0.546,1.9)(0.558,1.5)
(0.434,15.0)(0.450,16.4)(0.454,15.6)(0.462,14.6)(0.446,13.8)(0.466,13.4)(0.478,13.0)(0.486,14.4)(0.474,11.6)(0.490,11.4)(0.502,9.6)(0.526,9.8)(0.514,16.0)(0.530,16.6)(0.542,16.0)(0.554,15.2)(0.570,16.6)(0.582,16.0)(0.586,15.0)(0.598,14.2)(0.530,13.8)(0.546,13.8)(0.570,13.6)(0.534,13.0)(0.526,7.9)(0.562,7.5)(0.578,7.1)(0.538,6.7)(0.594,6.1)(0.570,5.2)(0.610,4.9)
(0.638,12.6)(0.650,12.2)(0.666,11.8)(0.678,11.6)(0.690,11.0)(0.698,9.8)(0.710,10.4)(0.746,10.6)(0.774,10.2)(0.802,9.8)(0.826,9.6)(0.802,9.1)(0.834,8.1)(0.838,7.5)(0.862,10.2)(0.874,10.0)(0.918,8.1)(0.866,6.7)(0.882,6.1)(0.886,5.5)(0.874,4.9)(0.894,4.5)(0.910,4.5)(0.630,6.5)(0.650,6.0)(0.655,6.9)(0.646,5.3)(0.666,4.5)(0.678,5.5)
(0.578,4.3)(0.586,3.3)(0.594,2.7)(0.610,2.3)(0.578,2.1)(0.594,1.5)(0.614,1.1)(0.626,4.3)(0.634,3.1)(0.642,2.3)(0.650,3.5)(0.658,4.3)(0.666,2.5)(0.674,1.9)(0.682,4.3)(0.690,3.1)(0.702,3.9)(0.706,4.9)(0.722,4.9)(0.730,3.5)(0.738,2.5)(0.626,0.4)(0.638,1.1)(0.654,1.3)(0.670,0.6)(0.682,0.9)(0.698,0.2)(0.706,1.5)(0.618,-0.8)(0.634,-1.4)(0.650,-1.2)(0.662,-2.0)(0.670,-0.8)(0.686,-1.6)(0.698,-1.4)(0.710,-0.6)(0.626,-3.0)(0.642,-2.2)(0.658,-2.8)(0.674,-2.6)(0.690,-3.2)(0.702,-2.2)(0.658,-4.1)(0.678,-4.5)(0.694,-5.0)(0.710,-5.0)(0.730,-5.4)(0.746,-6.0)(0.682,-5.6)(0.706,-6.2)(0.722,-5.0)(0.730,-1.2)(0.746,-2.0)(0.754,-2.6)(0.770,-3.2)(0.774,-2.2)(0.786,-1.2)(0.794,-0.8)(0.802,0.2)(0.810,-1.2)
(0.770,5.4)(0.782,4.9)(0.794,3.9)(0.802,3.9)(0.818,3.5)(0.834,4.3)(0.850,3.7)(0.786,2.7)(0.806,2.3)(0.826,1.9)(0.838,1.5)(0.850,0.9)(0.866,2.3)(0.882,1.5)(0.858,0.2)(0.874,0.4)(0.890,0.2)(0.898,-0.6)(0.786,1.1)(0.818,1.1)(0.834,0.2)(0.842,-1.4)(0.854,-2.0)(0.866,-2.4)(0.882,-3.0)(0.898,-3.4)(0.914,-3.0)(0.922,-2.6)(0.934,-3.6)(0.950,-4.0)(0.966,-3.6)(0.978,-4.6)(0.946,-4.8)(0.982,-3.4)(0.994,-5.0)(1.010,-4.6)(1.022,-5.4)(1.030,-5.8)(1.042,-5.2)(1.058,-5.0)(1.074,-4.8)(1.010,-6.2)(1.026,-6.6)(1.006,-7.0)(1.034,-7.7)(1.046,-7.4)(1.022,-8.5)(0.994,-8.3)(0.906,-7.7)(0.918,-7.9)(0.930,-8.5)(0.910,-8.7)(0.934,-10.0)(0.970,-9.1)(0.966,-11.1)
(0.770,-4.2)(0.786,-5.0)(0.806,-4.6)(0.770,-5.6)(0.794,-5.6)(0.814,-6.4)(0.802,-6.6)(0.826,-6.2)(0.838,-6.0)(0.822,-7.9)(0.834,-8.5)(0.850,-7.4)(0.858,-8.3)(0.866,-9.5)(0.882,-8.9)(0.726,-8.1)(0.738,-7.4)(0.754,-7.2)(0.750,-8.3)(0.762,-8.9)(0.770,-9.5)(0.777,-10.5)(0.814,-7.0)
(1.210,-4.4)(1.218,-4.8)(1.226,-4.6)(1.260,-4.6)
(0.470,5.3)(0.486,4.7)(0.498,3.8)(0.509,2.8)(0.494,6.9)(0.525,6.1)(0.549,2.0)(0.561,1.4)(0.572,3.4)(0.580,4.3)(0.592,3.0)(0.600,4.9)(0.612,2.2)(0.620,3.6)(0.628,1.2)(0.631,-0.8)(0.639,4.5)(0.643,2.8)(0.651,0.4)(0.655,-1.6)(0.663,3.4)(0.667,1.6)(0.671,-0.4)(0.675,-2.4)(0.683,4.7)(0.687,2.4)(0.691,0.8)(0.694,-1.2)(0.698,-2.8)(0.702,3.6)(0.706,0.0)(0.714,4.9)(0.714,1.8)(0.722,3.2)(0.726,-1.6)(0.730,0.6)(0.734,-3.4)(0.746,-2.0)(0.754,0.2)(0.757,-2.4)(0.761,3.6)(0.769,-3.2)(0.773,5.3)(0.777,-1.2)(0.781,2.8)(0.785,-4.5)(0.789,-1.2)(0.793,1.6)(0.801,3.8)(0.801,-5.3)(0.809,0.6)(0.813,2.4)(0.817,-2.4)(0.824,-0.4)(0.828,-6.5)(0.832,4.5)(0.836,1.2)(0.840,-1.2)(0.844,-6.1)(0.848,2.8)(0.852,0.0)(0.856,-3.2)(0.860,1.8)(0.864,-1.6)(0.868,-7.3)(0.872,-0.8)(0.876,0.8)(0.880,-3.2)(0.887,1.6)(0.891,-2.0)(0.895,-0.4)(0.903,-2.8)(0.907,-5.3)(0.915,0.0)(0.919,-3.2)(0.927,-1.6)(0.935,-4.5)(0.943,-2.8)(0.950,-4.9)(0.958,-3.6)(0.966,-5.3)(0.978,-4.1)(0.990,-5.1)(1.002,-5.7)(1.013,-5.3)(1.021,-6.1)
(0.624,-2.8)(0.643,-3.2)(0.663,-3.6)(0.675,-5.7)(0.691,-5.1)(0.706,-6.1)(0.722,-7.9)(0.738,-8.1)(0.750,-8.5)(0.761,-9.3)(0.773,-10.5)(0.793,-6.9)(0.809,-7.7)(0.824,-8.5)(0.840,-8.9)(0.856,-7.7)(0.872,-8.1)(0.903,-7.7)(0.919,-8.5)(0.931,-9.9)(0.966,-8.9)(0.974,-11.1)};
\addplot[fitline] coordinates {(0.302,16.3)(0.35,13.8)(0.40,11.5)(0.45,9.5)(0.50,7.7)(0.60,4.6)(0.70,2.0)(0.80,-0.3)(0.90,-2.3)(1.00,-4.1)(1.10,-5.7)(1.20,-7.2)(1.262,-8.1)};
\addplot[rdot] coordinates {(0.753,0.6)};
\end{axis}
% ===== overlay texts =====
\begin{scope}[x=0.5pt,y=-0.5pt]
\node[anchor=west, font=\titfont, text=labc, inner sep=0pt] at (115,18) {(HML) Value vs. Growth, US};
\node[anchor=west, font=\titfont, text=labc, inner sep=0pt] at (115,475) {(UMD) Up vs. Down, Momentum, US};
\node[anchor=west, font=\titfont, text=labc, inner sep=0pt] at (115,945) {(SMB) Small Cap vs. Large Cap, US};
\node[anchor=west, font=\titfont, text=labc, inner sep=0pt] at (893,20) {(HML) Value vs. Growth};
\node[anchor=west, font=\titfont, text=labc, inner sep=0pt] at (893,473) {Positive Momentum vs. Negative Momentum};
\node[anchor=west, font=\titfont, text=labc, inner sep=0pt] at (893,939) {Small Cap vs. Large Cap};
\node[rotate=90, align=center, font=\lfont, text=labc] at (30,183) {Relative Performance,\\Value vs. Growth};
\node[rotate=90, align=center, font=\lfont, text=labc] at (26,640) {Relative Performance,\\Momentum};
\node[rotate=90, align=center, font=\lfont, text=labc] at (37,1103) {Relative Performance,\\Small Cap vs. Large Cap};
\node[rotate=-90, align=center, font=\lfont, text=redaxis] at (716,180) {Relative PB Valuation,\\Value vs. Growth};
\node[rotate=-90, align=center, font=\lfont, text=redaxis] at (716,640) {Relative PB Valuation,\\Up vs. Down, Momentum};
\node[rotate=-90, align=center, font=\lfont, text=redaxis] at (708,1113) {Relative PB Valuation,\\Small Cap vs. Large Cap};
\node[rotate=90, font=\lfont, text=labc] at (806,178) {Subsequent 5-Year Return};
\node[rotate=90, font=\lfont, text=labc] at (806,643) {Subsequent 5-Year Return};
\node[rotate=90, font=\lfont, text=labc] at (803,1117) {Subsequent 5-Year Return};
\node[font=\lfont, text=labc] at (1143,390) {Valuation Ratio};
\node[font=\lfont, text=labc] at (1143,845) {Valuation Ratio};
\node[font=\lfont, text=labc] at (1143,1312) {Valuation Ratio};
\node[draw=boxdraw, fill=boxfill, line width=0.6pt, anchor=north west, minimum width=105.5pt, minimum height=30.5pt, inner sep=0pt] at (1187,40) {};
\node[anchor=west, align=left, font=\boxfont, text=labc] at (1207,71) {Correlation = \ -0.40\\t-stat = -1.90*};
\node[draw=boxdraw, fill=boxfill, line width=0.6pt, anchor=north west, minimum width=105pt, minimum height=30.5pt, inner sep=0pt] at (1187,495) {};
\node[anchor=west, align=left, font=\boxfont, text=labc] at (1207,527) {Correlation = \ -0.34\\t-stat = -2.46**};
\node[draw=boxdraw, fill=boxfill, line width=0.6pt, anchor=north west, minimum width=105.5pt, minimum height=30pt, inner sep=0pt] at (1185,966) {};
\node[anchor=west, align=left, font=\boxfont, text=labc] at (1205,997) {Correlation = \ -0.72\\t-stat = -6.40***};
\node[anchor=east, align=right, font=\lmfont, text=labc] at (968,310) {Less\\Expensive};
\node[anchor=west, align=left, font=\lmfont, text=labc] at (1320,310) {More\\Expensive};
\draw[rarrow] (978,311) -- (1310,311);
\node[anchor=east, align=right, font=\lmfont, text=labc] at (970,764) {Less\\Expensive};
\node[anchor=west, align=left, font=\lmfont, text=labc] at (1316,764) {More\\Expensive};
\draw[rarrow] (983,766) -- (1313,766);
\node[anchor=east, align=right, font=\lmfont, text=labc] at (970,1232) {Less\\Expensive};
\node[anchor=west, align=left, font=\lmfont, text=labc] at (1311,1232) {More\\Expensive};
\draw[rarrow] (973,1231) -- (1300,1231);
\draw[barrow] (509.1,71.7) -- (619,107.3);
\draw[barrow] (515.8,205.7) -- (617.3,261.7);
\draw[barrow] (505.7,571.7) -- (617.3,570);
\draw[barrow] (521,716.7) -- (617.3,690);
\draw[barrow] (507.4,1013.3) -- (619,990);
\draw[barrow] (507.4,1100) -- (617.3,1105);
\end{scope}
\end{tikzpicture}
\end{document}
